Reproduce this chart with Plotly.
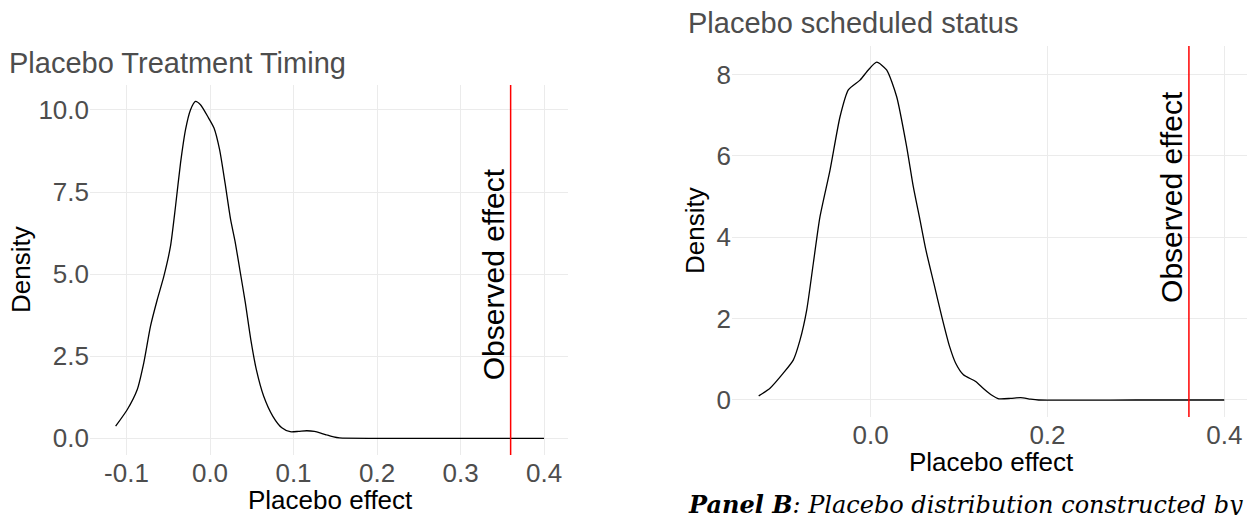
import plotly.graph_objects as go

W, H = 1257, 515
OFF = 8  # the page body adds an 8px margin; positions below are in window pixels

# ---------------- data ----------------
timing_x = [-0.1130, -0.0992, -0.0872, -0.0793, -0.0713, -0.0632, -0.0553, -0.0473, -0.0413,
            -0.0353, -0.0293, -0.0234, -0.0174, -0.0114, -0.0018, 0.0048, 0.0115, 0.0180,
            0.0247, 0.0300, 0.0357, 0.0423, 0.0489, 0.0555, 0.0643, 0.0753, 0.0860, 0.0960,
            0.1060, 0.1160, 0.1250, 0.1326, 0.1400, 0.1480, 0.1550, 0.2000, 0.3000, 0.4000]
timing_density = [0.37, 0.87, 1.48, 2.30, 3.41, 4.22, 4.93, 5.85, 7.06,
                  8.38, 9.40, 10.00, 10.26, 10.16, 9.76, 9.45, 8.79, 7.78,
                  6.66, 6.00, 5.14, 4.13, 3.00, 2.09, 1.28, 0.67, 0.32, 0.20,
                  0.21, 0.23, 0.21, 0.16, 0.10, 0.04, 0.01, 0.00, 0.00, 0.00]

status_x = [-0.1267, -0.1139, -0.0989, -0.0876, -0.0800, -0.0724, -0.0649, -0.0574, -0.0460,
            -0.0347, -0.0253, -0.0121, -0.0027, 0.0068, 0.0180, 0.0294, 0.0407, 0.0482,
            0.0558, 0.0625, 0.0714, 0.0804, 0.0893, 0.0960, 0.1049, 0.1183, 0.1272, 0.1362,
            0.1450, 0.1585, 0.1696, 0.1810, 0.1900, 0.3000, 0.4000]
status_density = [0.10, 0.29, 0.66, 0.98, 1.47, 2.21, 3.36, 4.50, 5.65,
                  6.96, 7.62, 7.86, 8.11, 8.30, 8.11, 7.45, 6.22, 5.24,
                  4.42, 3.68, 2.87, 2.05, 1.31, 0.91, 0.62, 0.46, 0.29, 0.13,
                  0.03, 0.04, 0.06, 0.02, 0.00, 0.00, 0.00]

observed_effect = 0.36
label_y = 5.0

left_xticks = [-0.1, 0.0, 0.1, 0.2, 0.3, 0.4]
left_xlabels = ["-0.1", "0.0", "0.1", "0.2", "0.3", "0.4"]
left_yticks = [0, 2.5, 5, 7.5, 10]
left_ylabels = ["0.0", "2.5", "5.0", "7.5", "10.0"]
right_xticks = [0.0, 0.2, 0.4]
right_xlabels = ["0.0", "0.2", "0.4"]
right_yticks = [0, 2, 4, 6, 8]
right_ylabels = ["0", "2", "4", "6", "8"]

title_left = "Placebo Treatment Timing"
title_right = "Placebo scheduled status"
caption = "<b><i>Panel B</i></b><i>: Placebo distribution constructed by</i>"

# ---------------- figure ----------------
SANS = "Liberation Sans, Arial, sans-serif"
GREY = "#4d4d4d"
GRID = "#ebebeb"


def px_x(p):
    return (p - OFF) / W


def px_y(p):
    return 1 - (p - OFF) / H


fig = go.Figure()
fig.add_trace(go.Scatter(x=timing_x, y=timing_density, mode="lines",
                         line=dict(color="black", width=1.3, shape="spline", smoothing=0.6),
                         xaxis="x", yaxis="y", showlegend=False, hoverinfo="skip"))
fig.add_trace(go.Scatter(x=status_x, y=status_density, mode="lines",
                         line=dict(color="black", width=1.3, shape="spline", smoothing=0.6),
                         xaxis="x2", yaxis="y2", showlegend=False, hoverinfo="skip"))

axis_common = dict(showgrid=True, gridcolor=GRID, gridwidth=1.1, zeroline=False,
                   showline=False, ticks="", tickfont=dict(family=SANS, size=26, color=GREY),
                   tickmode="array", fixedrange=True)

fig.update_layout(
    width=W, height=H,
    margin=dict(l=0, r=0, t=0, b=0),
    paper_bgcolor="white", plot_bgcolor="white",
    xaxis=dict(domain=[px_x(90), px_x(568)], range=[-0.1437, 0.4287],
               tickvals=left_xticks, ticktext=left_xlabels, anchor="y", **axis_common),
    yaxis=dict(domain=[px_y(455), px_y(85)], range=[-0.509, 10.76],
               tickvals=left_yticks, ticktext=left_ylabels, anchor="x", **axis_common),
    xaxis2=dict(domain=[px_x(732), px_x(1247)], range=[-0.1569, 0.4257],
                tickvals=right_xticks, ticktext=right_xlabels, anchor="y2", **axis_common),
    yaxis2=dict(domain=[px_y(417), px_y(46)], range=[-0.418, 8.698],
                tickvals=right_yticks, ticktext=right_ylabels, anchor="x2", **axis_common),
)

for xr, yr in (("x", "y"), ("x2", "y2")):
    fig.add_shape(type="line", xref=xr, yref=yr + " domain", x0=observed_effect, x1=observed_effect,
                  y0=0, y1=1, line=dict(color="#ff0000", width=1.5))
    fig.add_annotation(x=observed_effect, y=label_y, xref=xr, yref=yr, text="Observed effect",
                       textangle=-90, showarrow=False, xshift=-17.5,
                       xanchor="center", yanchor="middle",
                       font=dict(family=SANS, size=30, color="black"))

ann_font = dict(family=SANS, size=26, color="black")
# panel titles
fig.add_annotation(x=px_x(7), y=px_y(63), xref="paper", yref="paper", text=title_left,
                   xanchor="left", yanchor="middle", showarrow=False,
                   font=dict(family=SANS, size=29, color=GREY))
fig.add_annotation(x=px_x(686), y=px_y(23), xref="paper", yref="paper", text=title_right,
                   xanchor="left", yanchor="middle", showarrow=False,
                   font=dict(family=SANS, size=29, color=GREY))
# axis titles
fig.add_annotation(x=px_x(21), y=px_y(270), xref="paper", yref="paper", text="Density",
                   textangle=-90, showarrow=False, xanchor="center", yanchor="middle",
                   font=ann_font)
fig.add_annotation(x=px_x(695), y=px_y(231), xref="paper", yref="paper", text="Density",
                   textangle=-90, showarrow=False, xanchor="center", yanchor="middle",
                   font=ann_font)
fig.add_annotation(x=px_x(330), y=px_y(500), xref="paper", yref="paper", text="Placebo effect",
                   showarrow=False, xanchor="center", yanchor="middle", font=ann_font)
fig.add_annotation(x=px_x(991), y=px_y(462), xref="paper", yref="paper", text="Placebo effect",
                   showarrow=False, xanchor="center", yanchor="middle", font=ann_font)
# caption
fig.add_annotation(x=px_x(686), y=px_y(504), xref="paper", yref="paper", text=caption,
                   xanchor="left", yanchor="middle", showarrow=False,
                   font=dict(family="DejaVu Serif, serif", size=24, color="black"))

fig.write_html("out.html", config={"displayModeBar": False})
